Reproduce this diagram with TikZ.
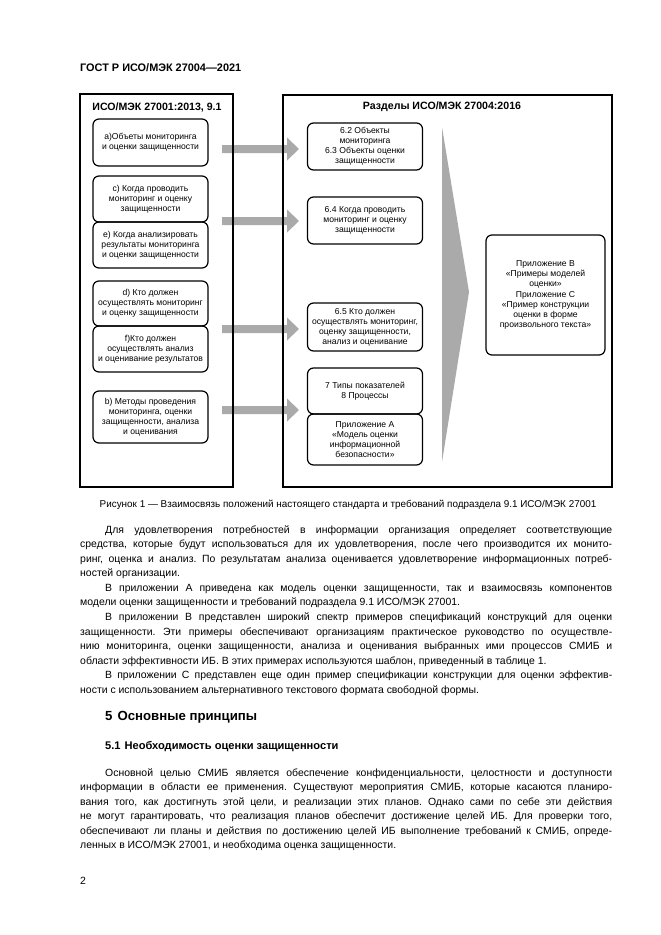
\documentclass[tikz,border=0pt]{standalone}
\usepackage{fontspec}
\setmainfont{Liberation Sans}
\usetikzlibrary{positioning}

\definecolor{arrowgray}{RGB}{170,170,170}

\newcommand{\boxfont}{\fontsize{8.6}{9.9}\selectfont}
\newcommand{\bodyfont}{\fontsize{10.45}{14.55}\selectfont\frenchspacing\hyphenpenalty=10000\exhyphenpenalty=10000\relax}
\newcommand{\parind}{\hspace*{25pt}}

\tikzset{
  framebox/.style={draw, line width=1.4pt},
  frametitle/.style={font=\fontsize{10.6}{12}\selectfont\bfseries, inner sep=0pt},
  itembox/.style={draw, line width=1.2pt, rounded corners=6pt, align=center,
    font=\boxfont, inner sep=1pt, outer sep=0pt, minimum width=115pt},
  bodytext/.style={anchor=north west, inner sep=0pt, text width=532pt,
    align=justify, font=\bodyfont},
  plaintext/.style={anchor=base west, inner sep=0pt}
}

\begin{document}
\begin{tikzpicture}[x=1pt, y=-1pt]
    \useasboundingbox (0,0) rectangle (661,935);

    % Header
    \node[plaintext, font=\fontsize{10.9}{12}\selectfont\bfseries] (head) at (80,71) {ГОСТ Р ИСО/МЭК 27004—2021};

    % Block arrows
    \foreach \y in {149,221,329,410}
        \fill[arrowgray] (222,\y-4) -- (287,\y-4) -- (287,\y-11.5) -- (299,\y)
            -- (287,\y+11.5) -- (287,\y+4) -- (222,\y+4) -- cycle;

    % Wedge
    \fill[arrowgray] (442,127) -- (469,292) -- (442,462) -- cycle;

    % Frames
    \draw[framebox] (80,94) rectangle (233,487);
    \draw[framebox] (283,95) rectangle (612,487);
    \node[frametitle] (srctitle) at (157,107) {ИСО/МЭК 27001:2013, 9.1};
    \node[frametitle] (dsttitle) at (442,107) {Разделы ИСО/МЭК 27004:2016};

    % Left column
    \node[itembox, minimum height=47pt] (srcA) at (150.5,142.5) {a)Объеты мониторинга\\и оценки защищенности};
    \node[itembox, minimum height=46pt] (srcC) at (150.5,199) {c) Когда проводить\\мониторинг и оценку\\защищенности};
    \node[itembox, minimum height=46pt, below=0pt of srcC] (srcE) {e) Когда анализировать\\результаты мониторинга\\и оценки защищенности};
    \node[itembox, minimum height=45pt] (srcD) at (150.5,303.5) {d) Кто должен\\осуществлять мониторинг\\и оценку защищенности};
    \node[itembox, minimum height=46pt, below=0pt of srcD] (srcF) {f)Кто должен\\осуществлять анализ\\и оценивание результатов};
    \node[itembox, minimum height=52pt] (srcB) at (150.5,417) {b) Методы проведения\\мониторинга, оценки\\защищенности, анализа\\и оценивания};

    % Right column
    \node[itembox, minimum height=47pt] (dstObj) at (365,146.5) {6.2 Объекты\\мониторинга\\6.3 Объекты оценки\\защищенности};
    \node[itembox, minimum height=47pt] (dstWhen) at (365,220.5) {6.4 Когда проводить\\мониторинг и оценку\\защищенности};
    \node[itembox, minimum height=48pt] (dstWho) at (365,327) {6.5 Кто должен\\осуществлять мониторинг,\\оценку защищенности,\\анализ и оценивание};
    \node[itembox, minimum height=46pt] (dstTypes) at (365,391) {7 Типы показателей\\8 Процессы};
    \node[itembox, minimum height=51pt, below=0pt of dstTypes] (dstAnnA) {Приложение А\\«Модель оценки\\информационной\\безопасности»};
    \node[itembox, minimum width=119pt, minimum height=120pt] (dstAnnBC) at (545.5,295) {Приложение В\\«Примеры моделей\\оценки»\\[1pt]Приложение С\\«Пример конструкции\\оценки в форме\\произвольного текста»};

    % Caption
    \node[anchor=base, inner sep=0pt, font=\fontsize{9.9}{11}\selectfont] (caption) at (348,507) {Рисунок 1 — Взаимосвязь положений настоящего стандарта и требований подраздела 9.1 ИСО/МЭК 27001};

    % Body
    \node[bodytext] (bodyA) at (80,523) {\rule{0pt}{10pt}\parind Для удовлетворения потребностей в информации организация определяет соответствующие\linebreak
        средства, которые будут использоваться для их удовлетворения, после чего производится их монито-\linebreak
        ринг, оценка и анализ. По результатам анализа оценивается удовлетворение информационных потреб-\linebreak
        ностей организации.\par
        \parind В приложении А приведена как модель оценки защищенности, так и взаимосвязь компонентов\linebreak
        модели оценки защищенности и требований подраздела 9.1 ИСО/МЭК 27001.\par
        \parind В приложении В представлен широкий спектр примеров спецификаций конструкций для оценки\linebreak
        защищенности. Эти примеры обеспечивают организациям практическое руководство по осуществле-\linebreak
        нию мониторинга, оценки защищенности, анализа и оценивания выбранных ими процессов СМИБ и\linebreak
        области эффективности ИБ. В этих примерах используются шаблон, приведенный в таблице 1.\par
        \parind В приложении С представлен еще один пример спецификации конструкции для оценки эффектив-\linebreak
        ности с использованием альтернативного текстового формата свободной формы.};

    \node[plaintext, font=\fontsize{13.2}{15}\selectfont\bfseries] (sec5) at (105,720) {5\hspace{5pt}Основные принципы};
    \node[plaintext, font=\fontsize{11.1}{13}\selectfont\bfseries] (sec51) at (105,749) {5.1\hspace{4pt}Необходимость оценки защищенности};

    \node[bodytext] (bodyB) at (80,766) {\rule{0pt}{10pt}\parind Основной целью СМИБ является обеспечение конфиденциальности, целостности и доступности\linebreak
        информации в области ее применения. Существуют мероприятия СМИБ, которые касаются планиро-\linebreak
        вания того, как достигнуть этой цели, и реализации этих планов. Однако сами по себе эти действия\linebreak
        не могут гарантировать, что реализация планов обеспечит достижение целей ИБ. Для проверки того,\linebreak
        обеспечивают ли планы и действия по достижению целей ИБ выполнение требований к СМИБ, опреде-\linebreak
        ленных в ИСО/МЭК 27001, и необходима оценка защищенности.};

    % Page number
    \node[plaintext, font=\bodyfont] (pagenum) at (80,884) {2};
\end{tikzpicture}
\end{document}
